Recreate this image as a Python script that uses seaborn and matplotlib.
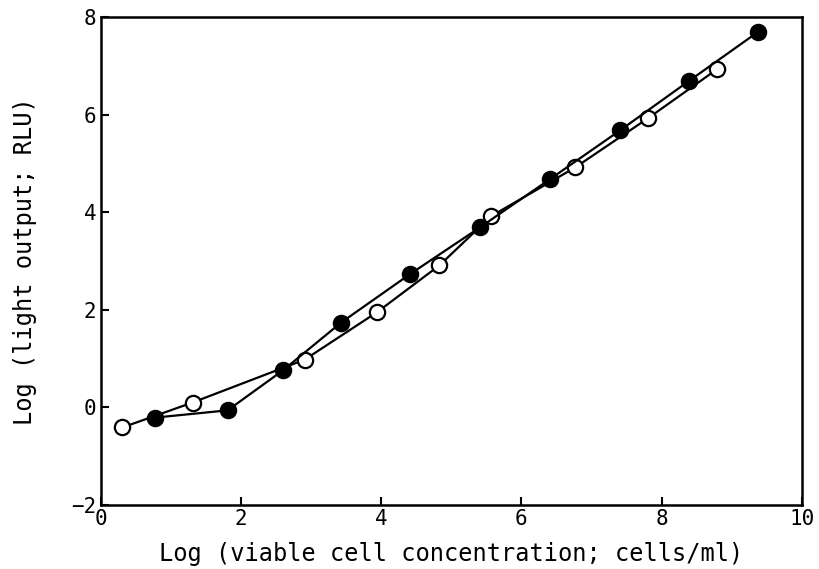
import pandas as pd
import seaborn as sns
import matplotlib.pyplot as plt

# filled circles
x_filled = [0.77, 1.81, 2.60, 3.43, 4.41, 5.41, 6.41, 7.41, 8.39, 9.37]
y_filled = [-0.21, -0.06, 0.76, 1.74, 2.73, 3.69, 4.68, 5.68, 6.69, 7.69]

# open circles
x_open = [0.31, 1.31, 2.91, 3.94, 4.83, 5.57, 6.77, 7.81, 8.79]
y_open = [-0.41, 0.10, 0.98, 1.95, 2.91, 3.92, 4.92, 5.93, 6.93]

x_ticks = [0, 2, 4, 6, 8, 10]
y_ticks = [-2, 0, 2, 4, 6, 8]

sns.set_style('ticks')
plt.rcParams['font.family'] = ['DejaVu Sans Mono']
plt.rcParams['text.color'] = 'black'
plt.rcParams['xtick.color'] = 'black'
plt.rcParams['ytick.color'] = 'black'
plt.rcParams['axes.labelcolor'] = 'black'

df_filled = pd.DataFrame({'x': x_filled, 'y': y_filled})
df_open = pd.DataFrame({'x': x_open, 'y': y_open})

fig, ax = plt.subplots(figsize=(8.19, 5.69), dpi=100)
fig.subplots_adjust(left=0.123, right=0.979, top=0.970, bottom=0.1125)

sns.lineplot(data=df_open, x='x', y='y', sort=False, color='black', linewidth=1.6,
             marker='o', markersize=11, markerfacecolor='white',
             markeredgecolor='black', markeredgewidth=1.6, ax=ax, zorder=3)
sns.lineplot(data=df_filled, x='x', y='y', sort=False, color='black', linewidth=1.6,
             marker='o', markersize=11, markerfacecolor='black',
             markeredgecolor='black', markeredgewidth=1.6, ax=ax, zorder=4)

ax.set_xlim(0, 10)
ax.set_ylim(-2, 8)
ax.set_xticks(x_ticks)
ax.set_yticks(y_ticks)
ax.tick_params(direction='in', length=6, width=1.5, labelsize=15, pad=3,
               top=False, right=False)
for s in ax.spines.values():
    s.set_linewidth(1.8)
    s.set_color('black')

ax.set_xlabel('Log (viable cell concentration; cells/ml)', fontsize=17, labelpad=9)
ax.set_ylabel('Log (light output; RLU)', fontsize=17, labelpad=25)

plt.savefig('out.png', dpi=100)
